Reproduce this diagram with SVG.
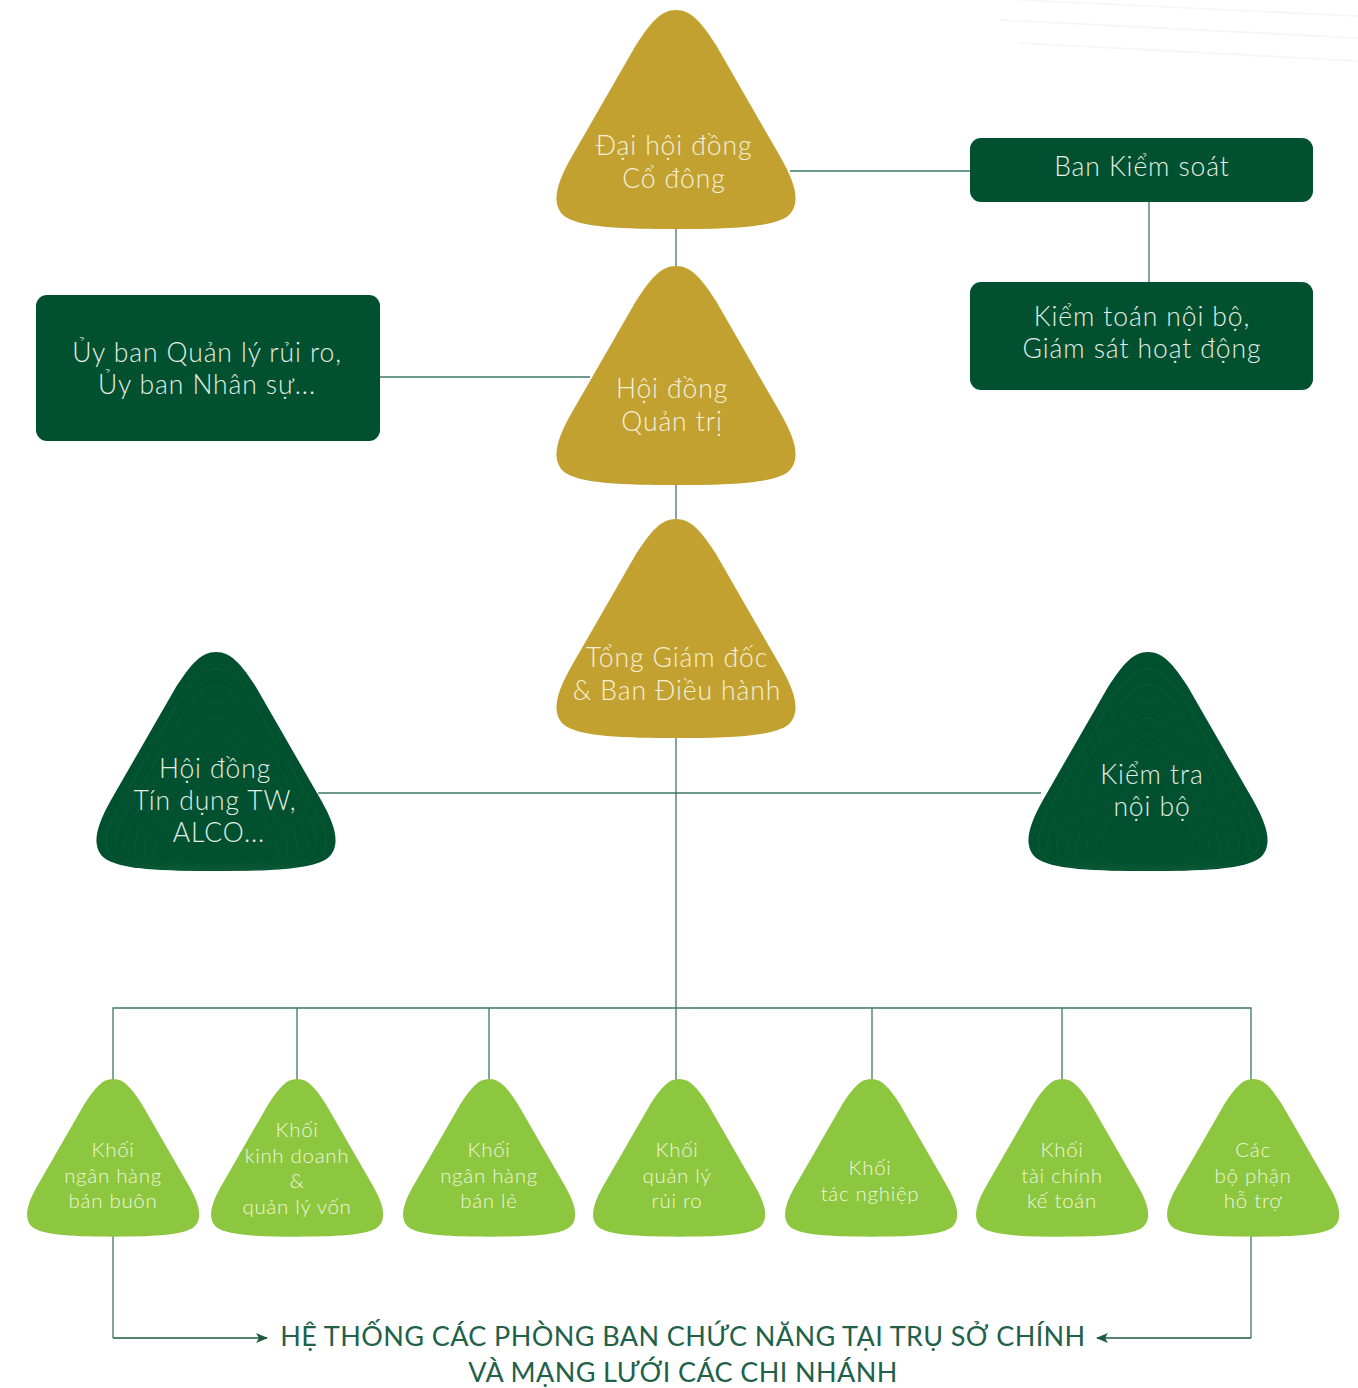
<svg xmlns="http://www.w3.org/2000/svg" width="1358" height="1388" viewBox="0 0 1358 1388">
<style>
.gold{fill:#c2a130}
.dark{fill:#01502f}
.lite{fill:#8dc63f}
.box{fill:#01502f}
.t{font-family:"Lato","Noto Sans","Liberation Sans",sans-serif;font-weight:300;text-anchor:middle}
.tg{fill:#f6f0d8;font-size:26.5px;letter-spacing:0.9px}
.td{fill:#e3eee6;font-size:26.5px;letter-spacing:0.9px}
.ts{fill:#eef7dc;font-size:20.5px;letter-spacing:0.7px}
.conn{stroke:#3d7867;stroke-width:1.3;fill:none}
.arr{stroke:#1d5a3e;stroke-width:1.5;fill:none}
.contour{fill:none;stroke:#0f5a38;stroke-width:1}
.bg{stroke:#f5f5f5;stroke-width:1.6;fill:none}
.foot{fill:#21614a;font-size:27px;font-family:"Lato","Noto Sans","Liberation Sans",sans-serif;font-weight:400;text-anchor:middle;letter-spacing:0.4px}
</style>
<defs>
<path id="tri" d="M121,0 C136,0 146,12 161,35 L226,148 C242,176 245,194 234,205 C220,218 170,219 121,219 C72,219 22,218 8,205 C-3,194 0,176 16,148 L81,35 C96,12 106,0 121,0 Z"/>
<marker id="ah" viewBox="0 0 12 10" refX="11" refY="5" markerWidth="12" markerHeight="10" markerUnits="userSpaceOnUse" orient="auto">
<path d="M0,0 L12,5 L0,10 L3,5 Z" fill="#1d5a3e"/>
</marker>
</defs>
<rect width="1358" height="1388" fill="#ffffff"/>
<g id="background">
<path class="bg" d="M1020,0 L1358,16"/>
<path class="bg" d="M1000,20 L1358,38"/>
<path class="bg" d="M1020,43 L1358,61"/>
</g>
<g id="connectors">
<path class="conn" d="M790,171 H970"/>
<path class="conn" d="M1149,202 V282"/>
<path class="conn" d="M380,377 H590"/>
<path class="conn" d="M676,228 V266"/>
<path class="conn" d="M676,484 V519"/>
<path class="conn" d="M676,738 V1080"/>
<path class="conn" d="M318,793 H1041"/>
<path class="conn" d="M113,1080 V1008 H1251 V1080"/>
<path class="conn" d="M297,1008 V1080"/>
<path class="conn" d="M489,1008 V1080"/>
<path class="conn" d="M872,1008 V1080"/>
<path class="conn" d="M1062,1008 V1080"/>
<path class="conn" d="M113,1236 V1338"/>
<path class="conn" d="M1251,1236 V1338"/>
<path class="arr" d="M113,1338 H267" marker-end="url(#ah)"/>
<path class="arr" d="M1251,1338 H1097" marker-end="url(#ah)"/>
</g>
<g id="n-daihoi">
<use href="#tri" class="gold" transform="translate(555,10)"/>
<text class="t tg" x="674" y="155">Đại hội đồng</text>
<text class="t tg" x="674" y="188">Cổ đông</text>
</g>
<g id="n-bankiemsoat">
<rect class="box" x="970" y="138" width="343" height="64" rx="11"/>
<text class="t td" x="1142" y="176">Ban Kiểm soát</text>
</g>
<g id="n-kiemtoan">
<rect class="box" x="970" y="282" width="343" height="108" rx="11"/>
<text class="t td" x="1142" y="326">Kiểm toán nội bộ,</text>
<text class="t td" x="1142" y="358">Giám sát hoạt động</text>
</g>
<g id="n-uyban">
<rect class="box" x="36" y="295" width="344" height="146" rx="11"/>
<text class="t td" x="207" y="362">Ủy ban Quản lý rủi ro,</text>
<text class="t td" x="207" y="394">Ủy ban Nhân sự...</text>
</g>
<g id="n-hdqt">
<use href="#tri" class="gold" transform="translate(555,266)"/>
<text class="t tg" x="672" y="398">Hội đồng</text>
<text class="t tg" x="672" y="431">Quản trị</text>
</g>
<g id="n-tgd">
<use href="#tri" class="gold" transform="translate(555,519)"/>
<text class="t tg" x="677" y="667">Tổng Giám đốc</text>
<text class="t tg" x="677" y="700">&amp; Ban Điều hành</text>
</g>
<g id="n-hdtd">
<use href="#tri" class="dark" transform="translate(95,652)"/>
<g transform="translate(216,860)">
<use href="#tri" class="contour" transform="scale(0.92) translate(-121,-208)"/>
<use href="#tri" class="contour" transform="scale(0.84) translate(-121,-208)"/>
<use href="#tri" class="contour" transform="scale(0.76) translate(-121,-208)"/>
<use href="#tri" class="contour" transform="scale(0.68) translate(-121,-208)"/>
<use href="#tri" class="contour" transform="scale(0.60) translate(-121,-208)"/>
<use href="#tri" class="contour" transform="scale(0.52) translate(-121,-208)"/>
<use href="#tri" class="contour" transform="scale(0.44) translate(-121,-208)"/>
</g>
<text class="t td" x="215" y="778">Hội đồng</text>
<text class="t td" x="215" y="810">Tín dụng TW,</text>
<text class="t td" x="219" y="842">ALCO...</text>
</g>
<g id="n-kiemtra">
<use href="#tri" class="dark" transform="translate(1027,652)"/>
<g transform="translate(1148,860)">
<use href="#tri" class="contour" transform="scale(0.92) translate(-121,-208)"/>
<use href="#tri" class="contour" transform="scale(0.84) translate(-121,-208)"/>
<use href="#tri" class="contour" transform="scale(0.76) translate(-121,-208)"/>
<use href="#tri" class="contour" transform="scale(0.68) translate(-121,-208)"/>
<use href="#tri" class="contour" transform="scale(0.60) translate(-121,-208)"/>
<use href="#tri" class="contour" transform="scale(0.52) translate(-121,-208)"/>
<use href="#tri" class="contour" transform="scale(0.44) translate(-121,-208)"/>
</g>
<text class="t td" x="1152" y="784">Kiểm tra</text>
<text class="t td" x="1152" y="816">nội bộ</text>
</g>
<g id="n-k1">
<use href="#tri" class="lite" transform="translate(26,1079) scale(0.72)"/>
<text class="t ts" x="113" y="1157">Khối</text>
<text class="t ts" x="113" y="1183">ngân hàng</text>
<text class="t ts" x="113" y="1208">bán buôn</text>
</g>
<g id="n-k2">
<use href="#tri" class="lite" transform="translate(210,1079) scale(0.72)"/>
<text class="t ts" x="297" y="1137">Khối</text>
<text class="t ts" x="297" y="1163">kinh doanh</text>
<text class="t ts" x="297" y="1188">&amp;</text>
<text class="t ts" x="297" y="1214">quản lý vốn</text>
</g>
<g id="n-k3">
<use href="#tri" class="lite" transform="translate(402,1079) scale(0.72)"/>
<text class="t ts" x="489" y="1157">Khối</text>
<text class="t ts" x="489" y="1183">ngân hàng</text>
<text class="t ts" x="489" y="1208">bán lẻ</text>
</g>
<g id="n-k4">
<use href="#tri" class="lite" transform="translate(592,1079) scale(0.72)"/>
<text class="t ts" x="677" y="1157">Khối</text>
<text class="t ts" x="677" y="1183">quản lý</text>
<text class="t ts" x="677" y="1208">rủi ro</text>
</g>
<g id="n-k5">
<use href="#tri" class="lite" transform="translate(784,1079) scale(0.72)"/>
<text class="t ts" x="870" y="1175">Khối</text>
<text class="t ts" x="870" y="1201">tác nghiệp</text>
</g>
<g id="n-k6">
<use href="#tri" class="lite" transform="translate(975,1079) scale(0.72)"/>
<text class="t ts" x="1062" y="1157">Khối</text>
<text class="t ts" x="1062" y="1183">tài chính</text>
<text class="t ts" x="1062" y="1208">kế toán</text>
</g>
<g id="n-k7">
<use href="#tri" class="lite" transform="translate(1166,1079) scale(0.72)"/>
<text class="t ts" x="1253" y="1157">Các</text>
<text class="t ts" x="1253" y="1183">bộ phận</text>
<text class="t ts" x="1253" y="1208">hỗ trợ</text>
</g>
<g id="n-footer">
<text class="foot" x="683" y="1346">HỆ THỐNG CÁC PHÒNG BAN CHỨC NĂNG TẠI TRỤ SỞ CHÍNH</text>
<text class="foot" x="683" y="1382">VÀ MẠNG LƯỚI CÁC CHI NHÁNH</text>
</g>
</svg>
